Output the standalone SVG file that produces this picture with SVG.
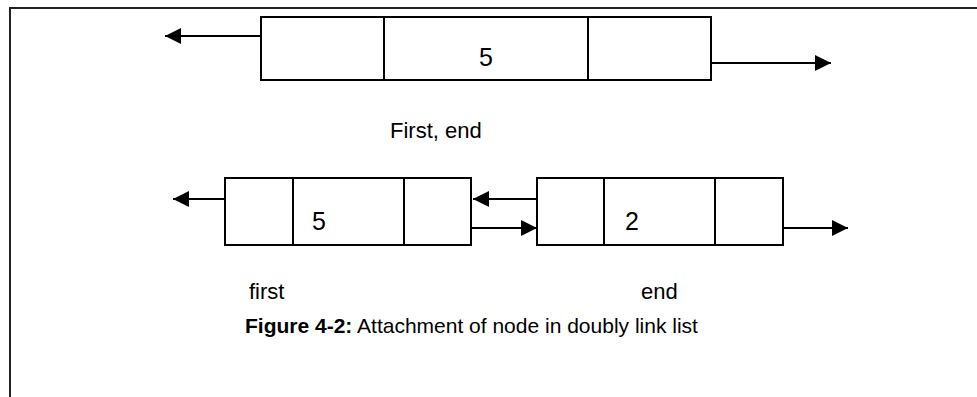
<svg xmlns="http://www.w3.org/2000/svg" width="977" height="397" viewBox="0 0 977 397">
<style>
.box{fill:#fff;stroke:#000;stroke-width:2}
.div{stroke:#000;stroke-width:2}
.con{stroke:#000;stroke-width:2;fill:none}
.t{font-family:"Liberation Sans",Arial,sans-serif;font-size:21px;fill:#000}
.d{font-size:25px}
.l{font-size:22px}
.b{font-weight:bold}
</style>
<defs>
<marker id="ah" viewBox="0 0 16 16" refX="16" refY="8" markerWidth="16" markerHeight="16" markerUnits="userSpaceOnUse" orient="auto">
<path d="M0,0 L16,8 L0,16 Z" fill="#000"/>
</marker>
</defs>
<rect width="977" height="397" fill="#fff"/>
<g id="frame">
<path d="M10,397 V8 H977" fill="none" stroke="#222" stroke-width="2"/>
</g>
<g id="node-top">
<rect class="box" x="261" y="17" width="450" height="63"/>
<line class="div" x1="384" y1="17" x2="384" y2="80"/>
<line class="div" x1="588" y1="17" x2="588" y2="80"/>
<text class="t d" x="486" y="66" text-anchor="middle">5</text>
</g>
<g id="node-first">
<rect class="box" x="225" y="178" width="246" height="67"/>
<line class="div" x1="293" y1="178" x2="293" y2="245"/>
<line class="div" x1="404" y1="178" x2="404" y2="245"/>
<text class="t d" x="312" y="230">5</text>
</g>
<g id="node-end">
<rect class="box" x="537" y="178" width="246" height="67"/>
<line class="div" x1="604" y1="178" x2="604" y2="245"/>
<line class="div" x1="715" y1="178" x2="715" y2="245"/>
<text class="t d" x="625" y="230">2</text>
</g>
<g id="connectors">
<line class="con" x1="261" y1="36" x2="165" y2="36" marker-end="url(#ah)"/>
<line class="con" x1="711" y1="63" x2="831" y2="63" marker-end="url(#ah)"/>
<line class="con" x1="225" y1="199" x2="173" y2="199" marker-end="url(#ah)"/>
<line class="con" x1="537" y1="199" x2="473" y2="199" marker-end="url(#ah)"/>
<line class="con" x1="471" y1="228" x2="537" y2="228" marker-end="url(#ah)"/>
<line class="con" x1="783" y1="228" x2="848" y2="228" marker-end="url(#ah)"/>
</g>
<g id="labels">
<text class="t l" x="390" y="138">First, end</text>
<text class="t l" x="249" y="299">first</text>
<text class="t l" x="641" y="299">end</text>
<text class="t" x="245" y="333"><tspan class="b">Figure 4-2:</tspan> Attachment of node in doubly link list</text>
</g>
</svg>
